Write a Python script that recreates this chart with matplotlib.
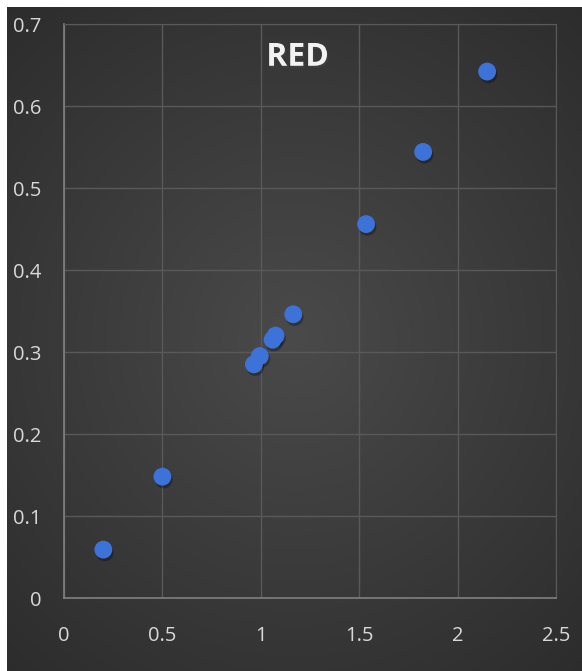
import numpy as np
import matplotlib.pyplot as plt
import matplotlib.patheffects as pe

# values
x_vals = [0.20, 0.50, 0.965, 0.995, 1.06, 1.075, 1.165, 1.535, 1.825, 2.15]
y_vals = [0.059, 0.148, 0.285, 0.295, 0.315, 0.320, 0.346, 0.456, 0.544, 0.642]
x_ticks = [0, 0.5, 1, 1.5, 2, 2.5]
x_labels = ['0', '0.5', '1', '1.5', '2', '2.5']
y_ticks = [0, 0.1, 0.2, 0.3, 0.4, 0.5, 0.6, 0.7]
y_labels = ['0', '0.1', '0.2', '0.3', '0.4', '0.5', '0.6', '0.7']
title = 'RED'

W, H = 582, 671
fig = plt.figure(figsize=(W / 100, H / 100), dpi=100, facecolor='white')

# dark radial gradient background (white strip top/left)
bg = fig.add_axes([7 / W, 0, 1 - 7 / W, 1 - 7 / H])
gx, gy = np.meshgrid(np.linspace(-1, 1, 300), np.linspace(-1, 1, 300))
r = np.sqrt((gx * 0.9) ** 2 + (gy * 1.0) ** 2)
shade = 0.29 - 0.12 * np.clip(r, 0, 1.4) / 1.4
bg.imshow(np.dstack([shade] * 3), aspect='auto', extent=[0, 1, 0, 1], interpolation='bilinear')
bg.axis('off')

ax = fig.add_axes([64 / W, (H - 598) / H, (556 - 64) / W, (598 - 24) / H])
ax.patch.set_alpha(0)

ax.scatter(x_vals, y_vals, s=165, color='#3d72d9', edgecolors='none', zorder=3,
           path_effects=[pe.SimplePatchShadow(offset=(1, -2), shadow_rgbFace='black', alpha=0.3),
                         pe.Normal()])

ax.set_xlim(0, 2.5)
ax.set_ylim(0, 0.7)
ax.set_xticks(x_ticks)
ax.set_xticklabels(x_labels)
ax.set_yticks(y_ticks)
ax.set_yticklabels(y_labels)
ax.grid(True, color='#595959', linewidth=1)
ax.set_axisbelow(True)
ax.tick_params(length=0, colors='#d9d9d9', labelsize=14.5)
ax.tick_params(axis='x', pad=20)
ax.tick_params(axis='y', pad=16)
for lab in ax.get_xticklabels() + ax.get_yticklabels():
    lab.set_family('Open Sans')
for s in ['top', 'right']:
    ax.spines[s].set_color('#595959')
for s in ['left', 'bottom']:
    ax.spines[s].set_color('#808080')
    ax.spines[s].set_linewidth(1.2)

ax.text(0.475, 0.942, title, transform=ax.transAxes, ha='center', va='center',
        fontsize=23, fontweight='bold', family='Open Sans', color='#f2f2f2',
        path_effects=[pe.SimplePatchShadow(offset=(1, -1.5), alpha=0.4), pe.Normal()])

fig.savefig('out.png', dpi=100, facecolor='white')
